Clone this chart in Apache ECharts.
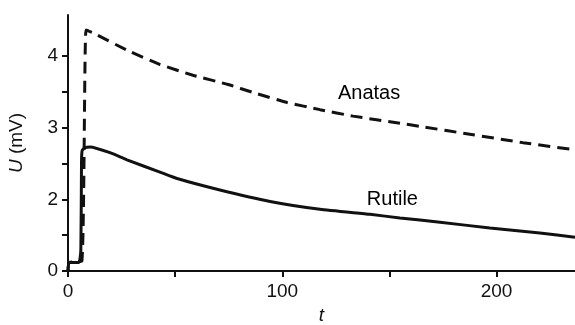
<!DOCTYPE html>
<html>
<head>
<meta charset="utf-8">
<script src="https://cdn.jsdelivr.net/npm/echarts@6/dist/echarts.min.js"></script>
<style>html,body{margin:0;padding:0;background:#fff}#c{width:575px;height:325px}</style>
</head>
<body>
<div id="c"></div>
<script>
// t values and U readings (axis-linear scale; the bottom tick is printed as "0")
const anatasT = [0, 0.5, 6.5, 8.4, 11.7, 27.5, 42.9, 58.3, 74.7, 86.3, 102.2, 117.6, 133, 154.9, 165.7, 189, 212.3, 236.6];
const anatasU = [1.0, 1.12, 1.14, 4.36, 4.32, 4.08, 3.88, 3.73, 3.60, 3.49, 3.35, 3.25, 3.16, 3.06, 3.01, 2.90, 2.79, 2.69];
const rutileT = [0, 0.5, 5.1, 6.0, 6.3, 6.6, 8.0, 10.3, 19.6, 27.5, 42.9, 50.9, 70.9, 94.3, 117.6, 140.9, 154.9, 173.6, 196.9, 220.2, 236.6];
const rutileU = [1.0, 1.12, 1.12, 1.3, 2.5, 2.68, 2.72, 2.73, 2.65, 2.55, 2.38, 2.29, 2.13, 1.97, 1.86, 1.79, 1.74, 1.68, 1.60, 1.53, 1.47];
const xTicks = [0, 50, 100, 150, 200];
const xLabels = [0, 100, 200];
const yTicks = [1, 1.5, 2, 2.5, 3, 3.5, 4];
const yLabels = [1, 2, 3, 4];
const yLabelText = {1: '0', 2: '2', 3: '3', 4: '4'};
const seriesNames = ['Anatas', 'Rutile'];
const labelPos = [[140.5, 3.47], [151.4, 2.0]];

const font = 'Liberation Sans, Arial, sans-serif';
const ink = '#111';
const zip = (a, b) => a.map((v, i) => [v, b[i]]);

const chart = echarts.init(document.getElementById('c'), null, {renderer: 'canvas'});
chart.setOption({
  animation: false,
  backgroundColor: '#fff',
  grid: {left: 68, right: 0, top: 15, bottom: 54, containLabel: false, outerBoundsMode: 'none'},
  xAxis: {
    type: 'value', min: 0, max: 236.6,
    name: 't', nameLocation: 'middle', nameGap: 35,
    nameTextStyle: {fontFamily: font, fontSize: 19, fontStyle: 'italic', color: ink},
    axisLine: {onZero: false, lineStyle: {color: ink, width: 2}},
    axisTick: {show: true, length: 6, lineStyle: {color: ink, width: 2}, customValues: xTicks},
    axisLabel: {fontFamily: font, fontSize: 19, color: ink, margin: 11, customValues: xLabels},
    splitLine: {show: false}
  },
  yAxis: {
    type: 'value', min: 1, max: 4.57,
    name: '{i|U} (mV)', nameLocation: 'middle', nameGap: 42,
    nameTextStyle: {fontFamily: font, fontSize: 19, color: ink,
      rich: {i: {fontFamily: font, fontSize: 19, fontStyle: 'italic', color: ink}}},
    axisLine: {onZero: false, lineStyle: {color: ink, width: 2}},
    axisTick: {show: true, length: 6, lineStyle: {color: ink, width: 2}, customValues: yTicks},
    axisLabel: {fontFamily: font, fontSize: 19, color: ink, margin: 10, customValues: yLabels,
      formatter: v => yLabelText[v] !== undefined ? yLabelText[v] : ''},
    splitLine: {show: false}
  },
  series: [
    {
      name: seriesNames[0], type: 'line', data: zip(anatasT, anatasU),
      showSymbol: false, symbol: 'none', smooth: 0.15,
      lineStyle: {color: ink, width: 3, type: [12, 7]}
    },
    {
      name: seriesNames[1], type: 'line', data: zip(rutileT, rutileU),
      showSymbol: false, symbol: 'none', smooth: 0.15,
      lineStyle: {color: ink, width: 3}
    },
    {
      type: 'scatter', silent: true,
      data: labelPos.map((p, i) => ({value: p, name: seriesNames[i]})),
      symbol: 'circle', symbolSize: 0.1, itemStyle: {color: '#fff'},
      label: {show: true, position: 'inside', formatter: p => p.name, fontFamily: font, fontSize: 20,
        color: '#000', textBorderWidth: 0, opacity: 1}
    }
  ]
});
</script>
</body>
</html>
